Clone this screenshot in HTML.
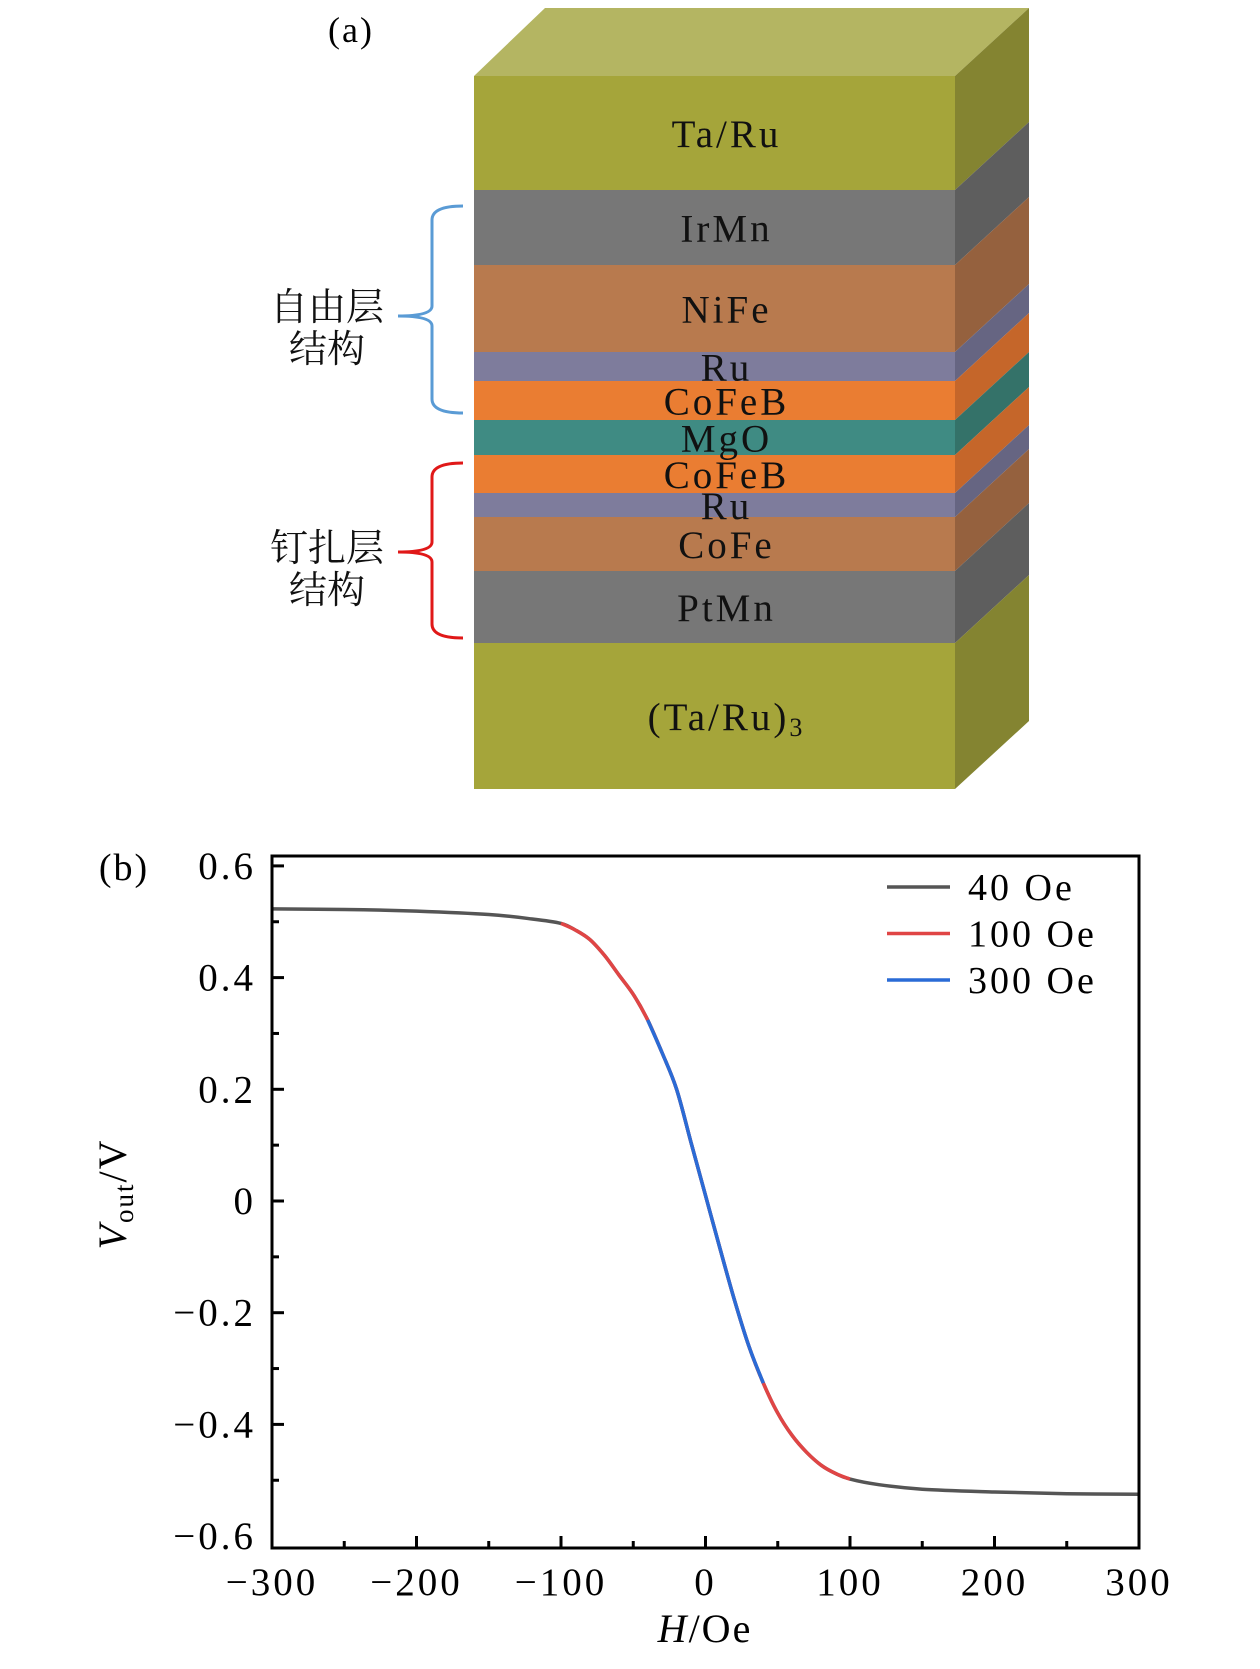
<!DOCTYPE html>
<html><head><meta charset="utf-8"><style>
html,body{margin:0;padding:0;background:#fff;}
svg{display:block;}
text{font-family:"Liberation Serif","Noto Serif CJK SC",serif;}
.cjk{font-family:"Noto Serif CJK SC","Noto Sans CJK SC",serif;}
</style></head><body>
<svg id="fig" width="1260" height="1669" viewBox="0 0 1260 1669" xmlns="http://www.w3.org/2000/svg">
<g id="panelA">
  <text x="351" y="42" font-size="36" text-anchor="middle" letter-spacing="2">(a)</text>
</g>
<g id="panelB"></g>
</svg>
<script>
// ---------- Panel (a) data ----------
const layerNames = ["Ta/Ru","IrMn","NiFe","Ru","CoFeB","MgO","CoFeB","Ru","CoFe","PtMn","(Ta/Ru)3"];
const layerBounds = [76,190,265,352,381,420,455,493,517,571,643,789];
const layerFront = ["#a5a53a","#777777","#b87a4e","#7e7c9c","#ea7d32","#3f8b83","#ea7d32","#7e7c9c","#b87a4e","#777777","#a5a53a"];
const layerSide = ["#848431","#5e5e5e","#95613e","#666582","#c5662a","#347269","#c5662a","#666582","#95613e","#5e5e5e","#848431"];

// ---------- Panel (b) data ----------
const hValues = [-300,-250,-200,-150,-120,-100,-90,-80,-70,-60,-50,-40,-30,-20,-10,0,10,20,30,40,50,60,70,80,90,100,120,150,200,250,300];
const v40 = [0.523,0.522,0.519,0.513,0.505,0.497,0.485,0.468,0.44,0.405,0.37,0.324,0.265,0.2,0.105,0.01,-0.085,-0.177,-0.26,-0.326,-0.38,-0.42,-0.45,-0.473,-0.488,-0.498,-0.508,-0.516,-0.521,-0.524,-0.525];
const h100 = [-100,-90,-80,-70,-60,-50,-40,-30,-20,-10,0,10,20,30,40,50,60,70,80,90,100];
const v100 = [0.497,0.485,0.468,0.44,0.405,0.37,0.324,0.265,0.2,0.105,0.01,-0.085,-0.177,-0.26,-0.326,-0.38,-0.42,-0.45,-0.473,-0.488,-0.498];
const h300 = [-40,-30,-20,-10,0,10,20,30,40];
const v300 = [0.324,0.265,0.2,0.105,0.01,-0.085,-0.177,-0.26,-0.326];
const xTicks = [-300,-200,-100,0,100,200,300];
const xTickLabels = ["\u2212300","\u2212200","\u2212100","0","100","200","300"];
const yTicks = [0.6,0.4,0.2,0,-0.2,-0.4,-0.6];
const yTickLabels = ["0.6","0.4","0.2","0","\u22120.2","\u22120.4","\u22120.6"];
const legendLabels = ["40 Oe","100 Oe","300 Oe"];
const seriesColors = ["#555555","#e04545","#2a6bd6"];

const NS = "http://www.w3.org/2000/svg";
function mk(tag, attrs, parent){const e=document.createElementNS(NS,tag);for(const k in attrs)e.setAttribute(k,attrs[k]);parent.appendChild(e);return e;}

// Panel A drawing
const gA = document.getElementById("panelA");
const FL=474, FR=955, DX=74, DY=-68;
const topFace = mk("polygon",{points:`${FL},${layerBounds[0]} ${FR},${layerBounds[0]} ${FR+DX},${layerBounds[0]+DY} ${FL+DX-3},${layerBounds[0]+DY}`,fill:"#b4b562"},gA);


for(let i=0;i<layerNames.length;i++){
  const y0=layerBounds[i], y1=layerBounds[i+1];
  const side = mk("polygon",{points:`${FR},${y0} ${FR+DX},${y0+DY} ${FR+DX},${y1+DY} ${FR},${y1}`,fill:layerSide[i]},gA);
  
  
  const r = mk("rect",{x:FL,y:y0,width:FR-FL,height:y1-y0,fill:layerFront[i]},gA);
  
  
}
for(let i=0;i<layerNames.length;i++){
  const cy=(layerBounds[i]+layerBounds[i+1])/2;
  const t = mk("text",{x:(FL+FR)/2+12,y:cy+14,"font-size":39,"letter-spacing":"3","text-anchor":"middle",fill:"#111"},gA);
  
  
  if(layerNames[i]==="(Ta/Ru)3"){t.textContent="(Ta/Ru)";const s=mk("tspan",{"font-size":26,dy:6},t);s.textContent="3";}
  else t.textContent=layerNames[i];
}
function drawBrace(y0,y1,ym,color,nm){
  const p = mk("path",{d:`M463,${y0} Q432,${y0} 432,${y0+14} L432,${ym-10} Q432,${ym} 398,${ym} Q432,${ym} 432,${ym+10} L432,${y1-14} Q432,${y1} 463,${y1}`,fill:"none",stroke:color,"stroke-width":3},gA);
  
  
}
drawBrace(206,413,316,"#5a9bd5","free-layer-brace");
drawBrace(463,638,552,"#e01818","pinned-layer-brace");
const cjkLabels=[["自由层",320,"free-layer-label-1"],["结构",362,"free-layer-label-2"],["钉扎层",561,"pinned-layer-label-1"],["结构",603,"pinned-layer-label-2"]];
cjkLabels.forEach(c=>{const t=mk("text",{x:327,y:c[1],"font-size":38,"text-anchor":"middle",class:"cjk",fill:"#111"},gA);t.textContent=c[0];
  
  });

// Panel B drawing
const gB = document.getElementById("panelB");
const PL=272, PR=1139, PT=856, PB=1548;
const xs = h => PL + (h+300)/600*(PR-PL);
const ys = v => 1201 - v*558.5;
const lblB = mk("text",{x:124,y:880,"font-size":38,"letter-spacing":"2","text-anchor":"middle"},gB);lblB.textContent="(b)";


for(let h=-250;h<=250;h+=50){
  const major = h%100===0;
  const tk = mk("line",{x1:xs(h),x2:xs(h),y1:PB,y2:PB-(major?12:7),stroke:"#000","stroke-width":3},gB);
  
  
}
for(let k=-5;k<=6;k++){
  const v=k/10; const major = k%2===0;
  const tk = mk("line",{x1:PL,x2:PL+(major?12:7),y1:ys(v),y2:ys(v),stroke:"#000","stroke-width":3},gB);
  
  
}
xTicks.forEach((h,i)=>{const t=mk("text",{x:xs(h),y:1595,"font-size":39,"letter-spacing":"3","text-anchor":"middle"},gB);t.textContent=xTickLabels[i];
  
  });
yTicks.forEach((v,i)=>{const t=mk("text",{x:256,y:ys(v)+13,"font-size":39,"letter-spacing":"3","text-anchor":"end"},gB);t.textContent=yTickLabels[i];
  
  });
function drawSeries(hs,vs,color,nm){
  const P=hs.map((h,i)=>[xs(h),ys(vs[i])]);
  let d="M"+P[0][0].toFixed(1)+","+P[0][1].toFixed(1);
  for(let i=0;i<P.length-1;i++){
    const p0=P[Math.max(0,i-1)],p1=P[i],p2=P[i+1],p3=P[Math.min(P.length-1,i+2)];
    const c1=[p1[0]+(p2[0]-p0[0])/6,p1[1]+(p2[1]-p0[1])/6];
    const c2=[p2[0]-(p3[0]-p1[0])/6,p2[1]-(p3[1]-p1[1])/6];
    d+=` C${c1[0].toFixed(1)},${c1[1].toFixed(1)} ${c2[0].toFixed(1)},${c2[1].toFixed(1)} ${p2[0].toFixed(1)},${p2[1].toFixed(1)}`;
  }
  const p=mk("path",{d:d,fill:"none",stroke:color,"stroke-width":3.5,"stroke-linejoin":"round"},gB);
  
  
}
drawSeries(hValues,v40,seriesColors[0],"series-40-oe");
drawSeries(h100,v100,seriesColors[1],"series-100-oe");
drawSeries(h300,v300,seriesColors[2],"series-300-oe");
const frameRect=mk("rect",{x:PL,y:PT,width:PR-PL,height:PB-PT,fill:"none",stroke:"#000","stroke-width":3},gB);


legendLabels.forEach((s,i)=>{const y=887+i*46.5;
  const ln=mk("line",{x1:887,x2:950,y1:y,y2:y,stroke:seriesColors[i],"stroke-width":3.5},gB);
  
  
  const t=mk("text",{x:968,y:y+13,"font-size":38,"letter-spacing":"3"},gB);t.textContent=s.replace(" ","\u00a0");
  
  });
const xTitle=mk("text",{x:705,y:1642,"font-size":40,"letter-spacing":"2","text-anchor":"middle"},gB);


const xi=mk("tspan",{"font-style":"italic"},xTitle);xi.textContent="H";const xr=mk("tspan",{},xTitle);xr.textContent="/Oe";
const yTitle=mk("text",{x:0,y:0,"font-size":40,"letter-spacing":"2","text-anchor":"middle",transform:"translate(126,1194) rotate(-90)"},gB);


const yi=mk("tspan",{"font-style":"italic"},yTitle);yi.textContent="V";
const ysub=mk("tspan",{"font-size":27,dy:7},yTitle);ysub.textContent="out";
const yr=mk("tspan",{dy:-7},yTitle);yr.textContent="/V";
</script>
</body></html>
